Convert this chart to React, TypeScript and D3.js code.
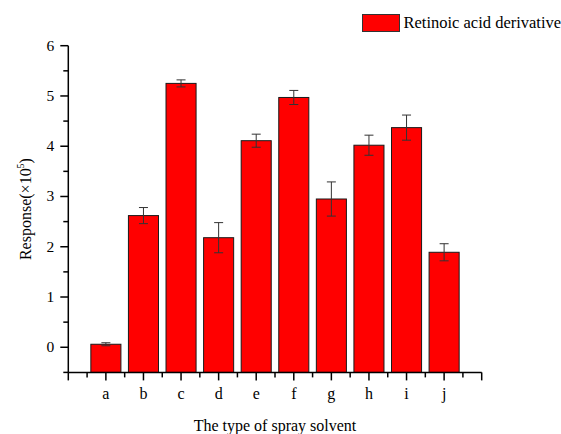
import React from "react";
import * as d3 from "d3";

const categories = ["a", "b", "c", "d", "e", "f", "g", "h", "i", "j"];
const values = [0.06, 2.62, 5.25, 2.18, 4.11, 4.97, 2.95, 4.02, 4.37, 1.89];
const errors = [0.03, 0.16, 0.07, 0.3, 0.13, 0.14, 0.34, 0.2, 0.25, 0.17];
const yTicks = [0, 1, 2, 3, 4, 5, 6];
const legendLabel = "Retinoic acid derivative";
const xTitle = "The type of spray solvent";

const W = 561;
const H = 434;
const FONT = "'Liberation Serif', 'Times New Roman', serif";

export default function App() {
  const x = d3.scaleLinear().domain([0, 11]).range([68.3, 481.7]);
  const y = d3.scaleLinear().domain([-0.5, 6]).range([372.4, 45.7]);
  const step = x(1) - x(0);
  const bw = step * 0.8;
  const majorX = d3.range(0, 12);
  const minorX = d3.range(0.5, 11, 1);
  const minorY = d3.range(-0.5, 6, 1);
  const axisY = y(-0.5);
  const axisX = x(0);

  return (
    <svg
      width={W}
      height={H}
      style={{ position: "absolute", left: 0, top: 0, background: "#fff" }}
      fontFamily={FONT}
    >
      <rect x={0} y={0} width={W} height={H} fill="#fff" />
      {/* bars */}
      {values.map((v, i) => (
        <rect
          key={"b" + i}
          x={x(i + 1) - bw / 2}
          y={y(v)}
          width={bw}
          height={axisY - y(v)}
          fill="#ff0000"
          stroke="#1a1a1a"
          strokeWidth={1}
        />
      ))}
      {/* error bars */}
      {values.map((v, i) => {
        const cx = x(i + 1);
        const top = y(v + errors[i]);
        const bot = y(v - errors[i]);
        return (
          <g key={"e" + i} stroke="#333" strokeWidth={1}>
            <line x1={cx} x2={cx} y1={top} y2={bot} />
            <line x1={cx - 4.5} x2={cx + 4.5} y1={top} y2={top} />
            <line x1={cx - 4.5} x2={cx + 4.5} y1={bot} y2={bot} />
          </g>
        );
      })}
      {/* axes */}
      <g stroke="#000" strokeWidth={1.5}>
        <line x1={axisX} x2={axisX} y1={y(6)} y2={axisY} />
        <line x1={axisX} x2={x(11)} y1={axisY} y2={axisY} />
        {yTicks.map((t) => (
          <line key={"yt" + t} x1={axisX - 8} x2={axisX} y1={y(t)} y2={y(t)} />
        ))}
        {minorY.map((t) => (
          <line key={"ym" + t} x1={axisX - 5} x2={axisX} y1={y(t)} y2={y(t)} />
        ))}
        {majorX.map((t) => (
          <line key={"xt" + t} x1={x(t)} x2={x(t)} y1={axisY} y2={axisY + 8} />
        ))}
        {minorX.map((t) => (
          <line key={"xm" + t} x1={x(t)} x2={x(t)} y1={axisY} y2={axisY + 5} />
        ))}
      </g>
      {/* y tick labels */}
      {yTicks.map((t) => (
        <text
          key={"yl" + t}
          x={axisX - 14}
          y={y(t) + 5}
          textAnchor="end"
          fontSize={15.5}
          fill="#000"
        >
          {t}
        </text>
      ))}
      {/* x labels */}
      {categories.map((c, i) => (
        <text
          key={"xl" + i}
          x={x(i + 1)}
          y={399}
          textAnchor="middle"
          fontSize={16}
          fill="#000"
        >
          {c}
        </text>
      ))}
      {/* titles */}
      <text x={275} y={431} textAnchor="middle" fontSize={16} fill="#000">
        {xTitle}
      </text>
      <text
        transform={`translate(31,${(y(6) + axisY) / 2}) rotate(-90)`}
        textAnchor="middle"
        fontSize={16}
        fill="#000"
      >
        Response(×10
        <tspan dy={-7} fontSize={10}>5</tspan>
        <tspan dy={7}>)</tspan>
      </text>
      {/* legend */}
      <rect x={362.5} y={14.5} width={37} height={17} fill="#ff0000" stroke="#333" strokeWidth={1} />
      <text x={403.5} y={28} fontSize={16.5} fill="#000">
        {legendLabel}
      </text>
    </svg>
  );
}
